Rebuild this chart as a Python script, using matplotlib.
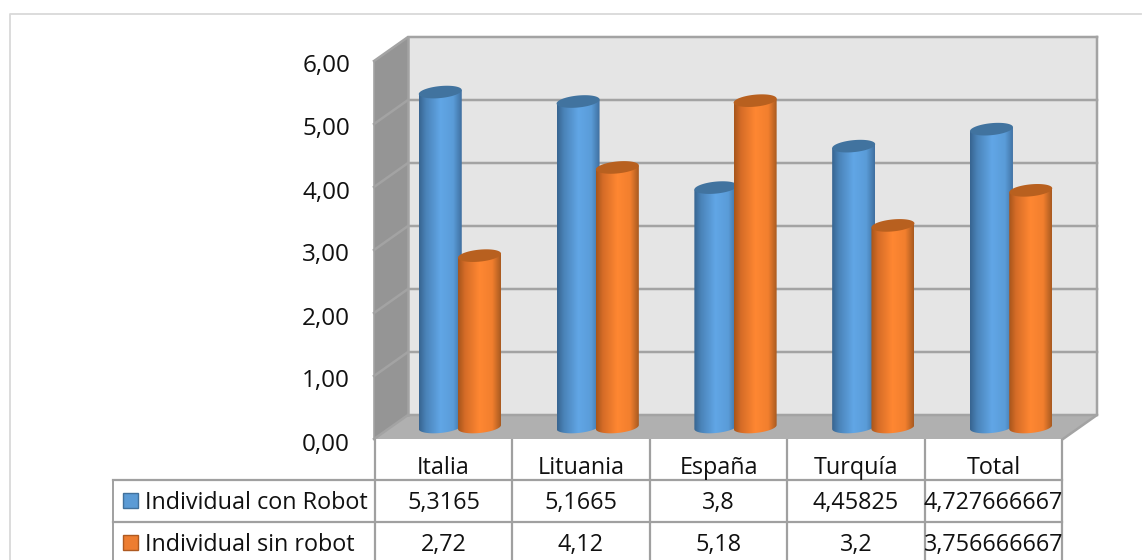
import matplotlib
matplotlib.use('Agg')
import matplotlib.pyplot as plt
import numpy as np
from matplotlib.colors import LinearSegmentedColormap
from matplotlib.patches import Polygon, Rectangle

plt.rcParams['font.family'] = ['Open Sans', 'DejaVu Sans']

categories = ['Italia', 'Lituania', 'España', 'Turquía', 'Total']
series_names = ['Individual con Robot', 'Individual sin robot']
con_robot = [5.3165, 5.1665, 3.8, 4.45825, 4.727666667]
sin_robot = [2.72, 4.12, 5.18, 3.2, 3.756666667]
y_ticks = [0, 1, 2, 3, 4, 5, 6]

W, H = 1142, 560
fig = plt.figure(figsize=(W / 100, H / 100), dpi=100)

# pixel overlay for frame and table
px = fig.add_axes([0, 0, 1, 1], zorder=1)
px.set_xlim(0, W)
px.set_ylim(H, 0)
px.axis('off')

# chart plane sits at mid depth of the fake 3d box
ax = fig.add_axes([391 / W, (H - 427) / H, 689 / W, 378 / H], zorder=2)
ax.set_xlim(0, 5)
ax.set_ylim(0, 6)
ax.axis('off')
ax.patch.set_alpha(0)

dx = 17 / 137.8
dy = 12 / 63.0
grid_col = '#a3a3a3'
txt_col = '#111111'


def wall(pts, col, z=1):
    ax.add_patch(Polygon(pts, closed=True, fc=col, ec='none', zorder=z, clip_on=False))


wall([(dx, dy), (5 + dx, dy), (5 + dx, 6 + dy), (dx, 6 + dy)], '#e5e5e5')
wall([(-dx, -dy), (dx, dy), (dx, 6 + dy), (-dx, 6 - dy)], '#959595')
wall([(-dx, -dy), (5 - dx, -dy), (5 + dx, dy), (dx, dy)], '#b0b0b0')

for t in y_ticks:
    ax.plot([-dx, dx, 5 + dx], [t - dy, t + dy, t + dy], color=grid_col, lw=1.8,
            zorder=2, clip_on=False, solid_joinstyle='miter')
    ax.text(-dx - 24 / 137.8, t - dy - 5.5 / 63, ('%.2f' % t).replace('.', ','), ha='right', va='center',
            fontsize=17.5, color=txt_col, clip_on=False)
ax.plot([5 + dx, 5 + dx, 5 - dx], [6 + dy, dy, -dy], color=grid_col, lw=1.8, zorder=2, clip_on=False)
ax.plot([dx, dx], [dy, 6 + dy], color=grid_col, lw=1.8, zorder=2, clip_on=False)
ax.plot([-dx, -dx], [-dy, 6 - dy], color=grid_col, lw=1.2, zorder=2, clip_on=False)

blue_map = LinearSegmentedColormap.from_list('b', [(0, '#376490'), (0.16, '#4a83b8'), (0.5, '#61a6e6'),
                                                   (0.8, '#5a9cd8'), (1, '#3f6f9f')])
orange_map = LinearSegmentedColormap.from_list('o', [(0, '#a6551b'), (0.16, '#d56c27'), (0.5, '#ff8732'),
                                                     (0.8, '#f27f2e'), (1, '#a85a20')])
top_cols = ['#41739f', '#b8601f']
maps = [blue_map, orange_map]

a = 21.5 / 137.8
b = 6 / 63.0
tilt = 2 / 63.0
ang = np.linspace(0, 2 * np.pi, 80)
grad = np.linspace(0, 1, 128).reshape(1, -1)

z = 5
for i in range(len(categories)):
    for s, vals in enumerate([con_robot, sin_robot]):
        cx = i + 0.5 + (s - 0.5) * 0.285
        v = vals[i]
        low = np.linspace(np.pi, 2 * np.pi, 40)
        body = [(cx - a, v - tilt)] + \
               [(cx + a * np.cos(t), b * np.sin(t) + tilt * np.cos(t)) for t in low] + \
               [(cx + a, v + tilt)]
        clip = Polygon(body, closed=True, transform=ax.transData, fc='none', ec='none')
        ax.add_patch(clip)
        im = ax.imshow(grad, cmap=maps[s], extent=[cx - a, cx + a, -b * 1.5, v + b], aspect='auto', zorder=z)
        # image is cropped to its clip box, so widen that past the axes
        im.set_clip_box(fig.bbox)
        im.set_clip_path(clip)
        top = np.column_stack([cx + a * np.cos(ang), v + b * np.sin(ang) + tilt * np.cos(ang)])
        ax.add_patch(Polygon(top, closed=True, fc=top_cols[s], ec='none', zorder=z + 0.5, clip_on=False))
        z += 1
ax.set_xlim(0, 5)
ax.set_ylim(0, 6)

# outer frame
frame = '#d9d9d9'
px.plot([10, 10, 1141], [H, 13.5, 13.5], color=frame, lw=1.3)

# data table
col_x = [375, 512, 650, 787, 925, 1062]
row_y = [440, 480, 522, H]
line = '#a0a0a0'
for x in col_x:
    px.plot([x, x], [row_y[0], H], color=line, lw=1.6)
for y in row_y[1:3]:
    px.plot([113, col_x[-1]], [y, y], color=line, lw=1.6)
px.plot([113, 113], [row_y[1], H], color=line, lw=1.4)

for j, c in enumerate(categories):
    xc = (col_x[j] + col_x[j + 1]) / 2
    px.text(xc, 467.5, c, ha='center', va='center', fontsize=16.8, color=txt_col)
    px.text(xc, 503.5, str(con_robot[j]).replace('.', ','), ha='center', va='center', fontsize=16.8, color=txt_col)
    px.text(xc, 545, str(sin_robot[j]).replace('.', ','), ha='center', va='center', fontsize=16.8, color=txt_col)

key_cols = [('#5b9bd5', '#41719c'), ('#ed7d31', '#ae5a21')]
for r, name in enumerate(series_names):
    yc = [500, 542][r]
    px.add_patch(Rectangle((123, yc - 7.5), 15, 15, fc=key_cols[r][0], ec=key_cols[r][1], lw=1))
    px.text(145, yc + 3, name, ha='left', va='center', fontsize=16.8, color=txt_col)

fig.savefig('out.png', dpi=100)
